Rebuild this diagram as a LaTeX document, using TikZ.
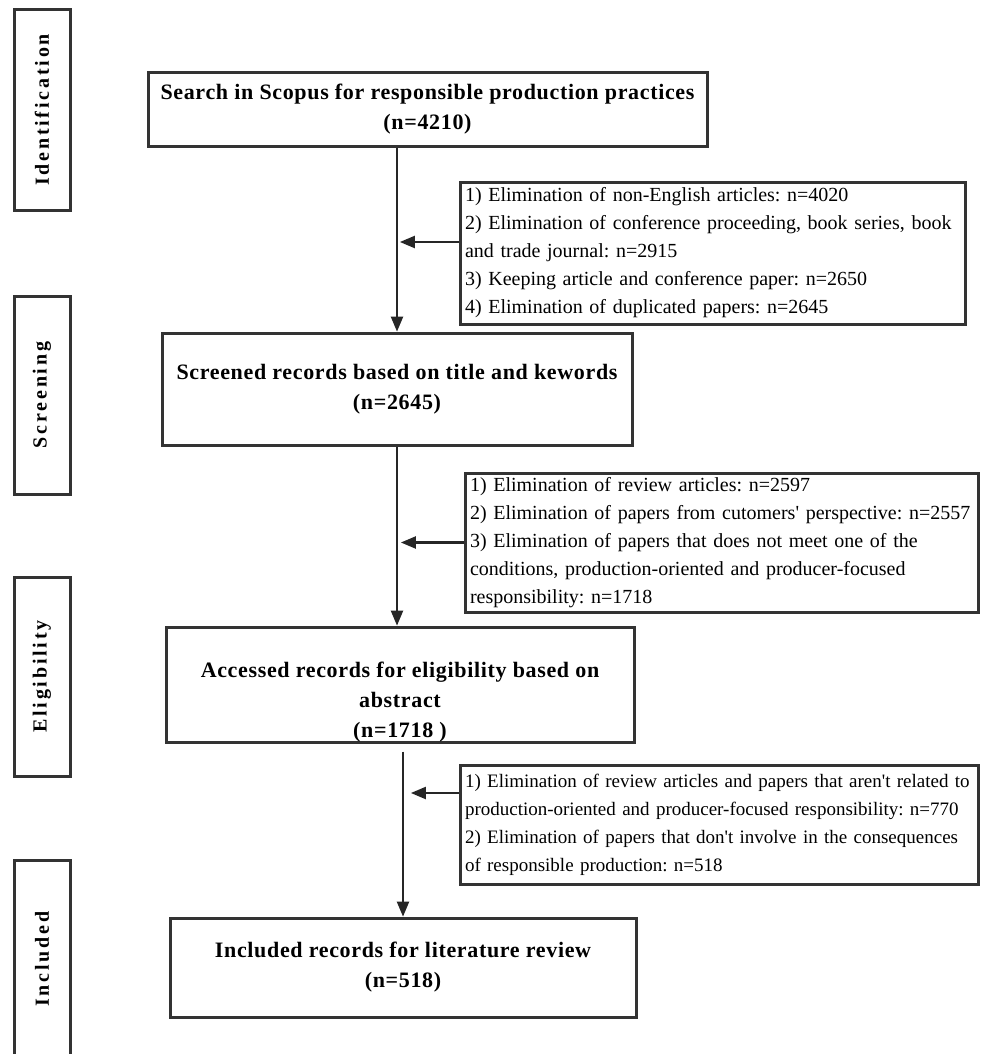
\documentclass[tikz,border=0pt]{standalone}
\usepackage{fontspec}
\setmainfont{Liberation Serif}
\usetikzlibrary{positioning,arrows}
\tikzset{
  stagebox/.style={draw=black!80, line width=3pt, minimum width=56pt, inner sep=0pt,
    font=\fontsize{20}{24}\selectfont\bfseries\addfontfeature{LetterSpace=14}},
  mainbox/.style={draw=black!80, line width=3pt, align=center, inner sep=0pt,
    font=\fontsize{22}{30}\selectfont\bfseries\addfontfeature{LetterSpace=3}},
  titletext/.style={align=center, inner sep=0pt,
    font=\fontsize{22}{30}\selectfont\bfseries\addfontfeature{LetterSpace=3}},
  exclbox/.style={draw=black!80, line width=3pt, align=left, inner xsep=5pt, inner ysep=0pt,
    font=\fontsize{20}{28}\selectfont},
  flow/.style={draw=black!85, line width=2.5pt, -{triangle 45[scale=1.6, scale length=1.5]}}
}

\begin{document}
\frenchspacing
\begin{tikzpicture}[x=1pt, y=-1pt]
    \useasboundingbox (0,0) rectangle (980,1054);

    % stages
    \node[stagebox, minimum height=200pt] (ident)  at (42,110)   {\rotatebox{90}{Identification}};
    \node[stagebox, minimum height=198pt] (screen) at (42,395)   {\rotatebox{90}{Screening}};
    \node[stagebox, minimum height=199pt] (elig)   at (42,676.5) {\rotatebox{90}{Eligibility}};
    \node[stagebox, minimum height=198pt] (incl)   at (42,959)   {\rotatebox{90}{Included}};

    % records
    \node[mainbox, minimum width=559pt, minimum height=73pt] (search) at (427.5,109.5)
      {Search in Scopus for responsible production practices\\(n=4210)};
    \node[mainbox, minimum width=470pt, minimum height=112pt] (screened) at (397,389)
      {Screened records based on title and kewords\\(n=2645)};
    \node[mainbox, minimum width=468pt, minimum height=115pt] (accessed) at (400,684.5) {};
    \node[titletext] (accessedtext) at (400,702)
      {Accessed records for eligibility based on\\abstract\\(n=1718 )};
    \node[mainbox, minimum width=466pt, minimum height=99pt] (included) at (403,967.5)
      {Included records for literature review\\(n=518)};

    % eliminations
    \node[exclbox, text width=495pt, minimum height=142pt] (excl1) at (712.5,253)
      {1) Elimination of non-English articles: n=4020\\
       2) Elimination of conference proceeding, book series, book\\
       and trade journal: n=2915\\
       3) Keeping article and conference paper: n=2650\\
       4) Elimination of duplicated papers: n=2645};
    \node[exclbox, text width=503pt, minimum height=139pt] (excl2) at (721.5,542.5)
      {1) Elimination of review articles: n=2597\\
       2) Elimination of papers from cutomers\textquotesingle\ perspective: n=2557\\
       3) Elimination of papers that does not meet one of the\\
       conditions, production-oriented and producer-focused\\
       responsibility: n=1718};
    \node[exclbox, font=\fontsize{19}{28}\selectfont, text width=508pt, minimum height=119pt] (excl3) at (719,824.5)
      {\mbox{1) Elimination of review articles and papers that aren\textquotesingle t related to}\\
       \mbox{production-oriented and producer-focused responsibility: n=770}\\
       \mbox{2) Elimination of papers that don\textquotesingle t involve in the consequences}\\
       of responsible production: n=518};

    \draw[flow] (search.south -| screened.north) -- (screened.north);
    \draw[flow] (screened.south) -- (screened.south |- accessed.north);
    \draw[flow] ([yshift=-8pt]accessed.south -| included.north) -- (included.north);

    \draw[flow, shorten >=3pt] ([yshift=11pt]excl1.west) -- ([yshift=11pt]excl1.west -| screened.north);
    \draw[flow, shorten >=4pt] (excl2.west) -- (excl2.west -| screened.south);
    \draw[flow, shorten >=8pt] ([yshift=31.5pt]excl3.west) -- ([yshift=31.5pt]excl3.west -| included.north);
\end{tikzpicture}
\end{document}
